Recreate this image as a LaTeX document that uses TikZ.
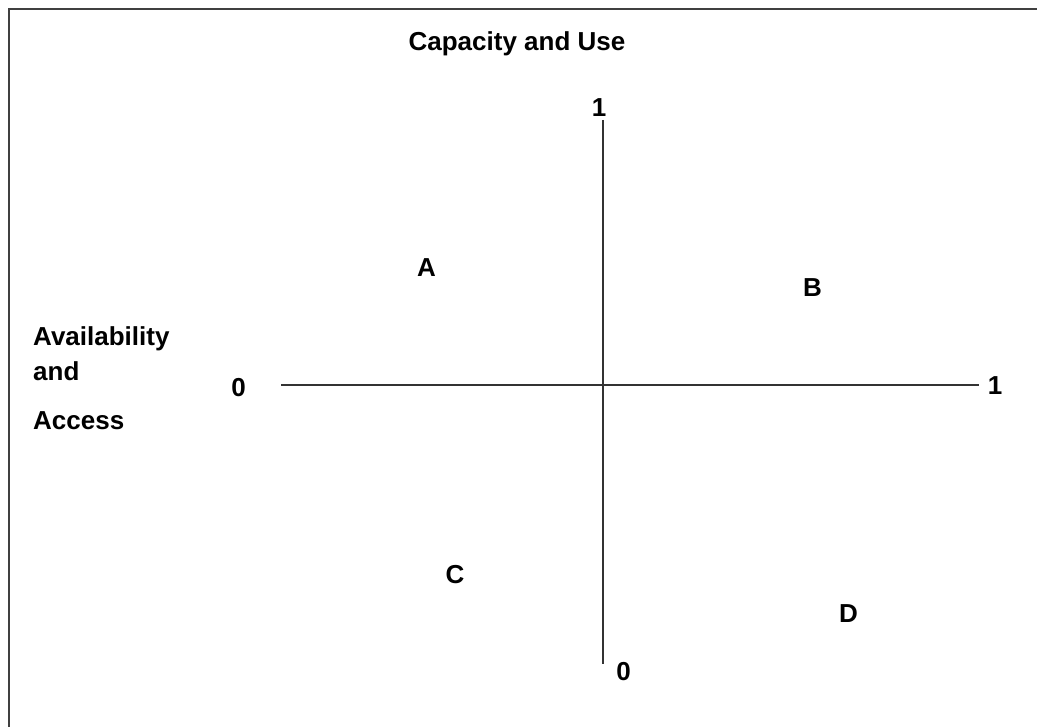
\documentclass[tikz,border=0pt]{standalone}
\usepackage{fontspec}
\setmainfont{Liberation Sans}
\begin{document}
\begin{tikzpicture}[x=1pt,y=-1pt,
  lbl/.style={inner sep=0pt,anchor=base,font=\fontsize{26}{30}\selectfont\bfseries,text=black},
  lblw/.style={lbl,anchor=base west},
  axis/.style={draw=black!80,line width=1.3pt},
  frameline/.style={draw=black!75,line width=2.2pt}]
\useasboundingbox (0,0) rectangle (1037,727);
% frame (left and top edges only visible)
\coordinate (fTR) at (1040,9);
\coordinate (fTL) at (9,9);
\coordinate (fBL) at (9,730);
\draw[frameline] (fTR) -- (fTL) -- (fBL);
% axes
\coordinate (hL) at (281,385);
\coordinate (hR) at (979,385);
\coordinate (vT) at (603,120);
\coordinate (vB) at (603,664);
\draw[axis] (hL) -- (hR);
\draw[axis] (vT) -- (vB);
% labels
\node[lbl] (title) at (517,51) {Capacity and Use};
\node[lblw] (av1) at (33,346) {Availability};
\node[lblw] (av2) at (33,381) {and};
\node[lblw] (av3) at (33,430) {Access};
\node[lbl] (xzero) at (238.5,397) {0};
\node[lbl] (xone) at (995,395) {1};
\node[lbl] (yone) at (599,117) {1};
\node[lbl] (yzero) at (623.5,680) {0};
\node[lbl] (qa) at (426.5,277) {A};
\node[lbl] (qb) at (812.5,297) {B};
\node[lbl] (qc) at (455,583) {C};
\node[lbl] (qd) at (848.5,622) {D};
\end{tikzpicture}
\end{document}
